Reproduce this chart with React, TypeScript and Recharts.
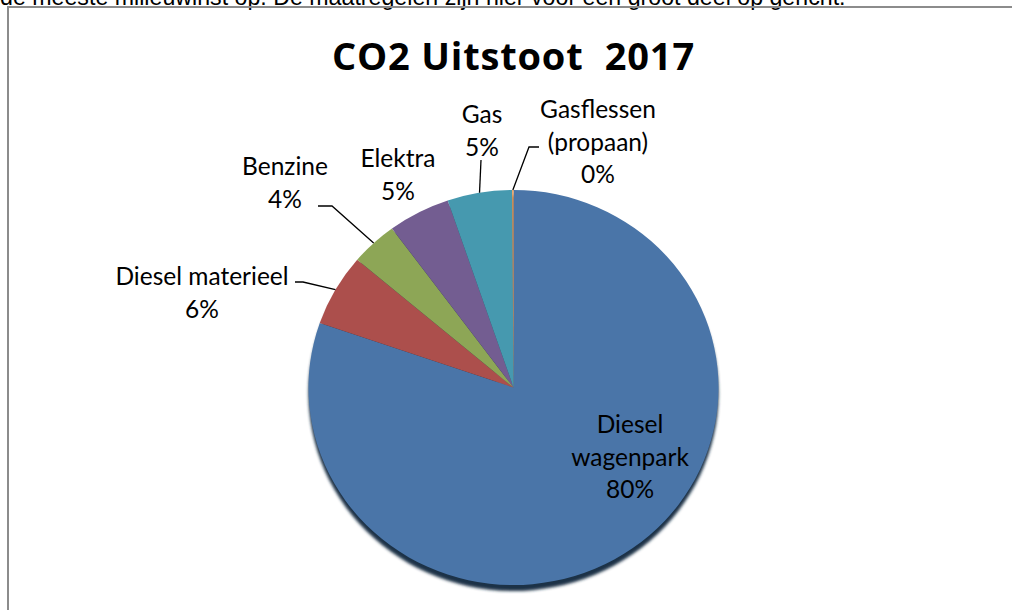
import { PieChart, Pie, Cell, Sector } from 'recharts'

const CATEGORIES = ['Diesel wagenpark', 'Diesel materieel', 'Benzine', 'Elektra', 'Gas', 'Gasflessen (propaan)']
const SHARES = [80.3, 5.9, 3.7, 4.9, 5.1, 0.1]
const COLORS = ['#4A75A8', '#AC4F4C', '#8DA656', '#735D91', '#4699AF', '#F79646']

const data = CATEGORIES.map((name, i) => ({ name, value: SHARES[i] }))

// label placement per slice: text centre x, first line y, optional wrap and leader elbow
const LABELS: { x: number; y: number; lines?: string[]; leader?: number[][] }[] = [
  { x: 630, y: 423, lines: ['Diesel', 'wagenpark'] },
  { x: 202, y: 275, leader: [[303, 282], [295, 282]] },
  { x: 285, y: 165, leader: [[332, 206], [318, 206]] },
  { x: 398, y: 157 },
  { x: 482, y: 113, leader: [[481, 160]] },
  { x: 598, y: 108, lines: ['Gasflessen', '(propaan)'], leader: [[529, 147], [539, 147]] },
]

const CX = 513.5
const CY = 387.5
const R = 205
const SY = 197.5 / 205 // excel draws the pie slightly flattened
const FONT = 'Lato, "Open Sans", sans-serif'

const squash = (cy: number) => `translate(0 ${cy}) scale(1 ${SY}) translate(0 ${-cy})`

const renderSlice = (props: any) => (
  <g transform={squash(props.cy)}>
    <Sector {...props} />
  </g>
)

const renderShadow = (props: any) => (
  <g transform={squash(props.cy)} filter="url(#pieShadow)">
    <Sector {...props} />
  </g>
)

const renderLabel = (props: any) => {
  const { cx, cy, midAngle, outerRadius, percent, index } = props
  const lay = LABELS[index]
  if (!lay) return null
  const rad = (-midAngle * Math.PI) / 180
  const ax = cx + outerRadius * Math.cos(rad)
  const ay = cy + outerRadius * SY * Math.sin(rad)
  const lines = [...(lay.lines ?? [CATEGORIES[index]]), `${Math.round(percent * 100)}%`]
  return (
    <g>
      {lay.leader && (
        <polyline
          points={[[ax, ay], ...lay.leader].map((p) => p.join(',')).join(' ')}
          fill="none"
          stroke="#000"
          strokeWidth={1.3}
        />
      )}
      <text x={lay.x} y={lay.y} textAnchor="middle" dominantBaseline="central" fontFamily={FONT} fontSize={24.5} fill="#000">
        {lines.map((l, i) => (
          <tspan key={i} x={lay.x} dy={i === 0 ? 0 : 32.5}>
            {l}
          </tspan>
        ))}
      </text>
    </g>
  )
}

export default function App() {
  return (
    <div style={{ position: 'absolute', left: 0, top: 0, width: 1012, height: 610, overflow: 'hidden', background: '#fff' }}>
      <svg width={0} height={0} style={{ position: 'absolute' }}>
        <defs>
          <filter id="pieShadow" x="-10%" y="-10%" width="120%" height="120%">
            <feGaussianBlur stdDeviation={1.6} />
          </filter>
        </defs>
      </svg>
      <div
        style={{
          position: 'absolute',
          left: 0,
          top: -16,
          fontFamily: '"Liberation Sans", Arial, sans-serif',
          fontSize: 23.2,
          lineHeight: '26px',
          whiteSpace: 'nowrap',
          color: '#000',
        }}
      >
        de meeste milieuwinst op. De maatregelen zijn hier voor een groot deel op gericht.
      </div>
      <div
        style={{
          position: 'absolute',
          left: 7,
          top: 6,
          width: 1100,
          height: 700,
          border: '2px solid #8c8c8c',
          boxSizing: 'border-box',
        }}
      />
      <div
        style={{
          position: 'absolute',
          left: 8,
          top: 36,
          width: 1011,
          textAlign: 'center',
          fontFamily: '"Open Sans", sans-serif',
          fontWeight: 700,
          fontSize: 38,
          lineHeight: '38px',
          letterSpacing: 0.8,
          whiteSpace: 'pre',
          color: '#000',
        }}
      >
        {'CO2 Uitstoot  2017'}
      </div>
      <div style={{ position: 'absolute', left: 0, top: 0 }}>
        <PieChart width={1012} height={610} margin={{ top: 0, right: 0, bottom: 0, left: 0 }}>
          <Pie
            data={data}
            dataKey="value"
            nameKey="name"
            cx={CX}
            cy={CY + 6}
            outerRadius={R}
            startAngle={90}
            endAngle={-270}
            fill="#1d3047"
            stroke="none"
            shape={renderShadow}
            isAnimationActive={false}
          />
          <Pie
            data={data}
            dataKey="value"
            nameKey="name"
            cx={CX}
            cy={CY}
            outerRadius={R}
            startAngle={90}
            endAngle={-270}
            stroke="none"
            shape={renderSlice}
            label={renderLabel}
            labelLine={false}
            isAnimationActive={false}
          >
            {data.map((_, i) => (
              <Cell key={i} fill={COLORS[i]} />
            ))}
          </Pie>
        </PieChart>
      </div>
    </div>
  )
}
